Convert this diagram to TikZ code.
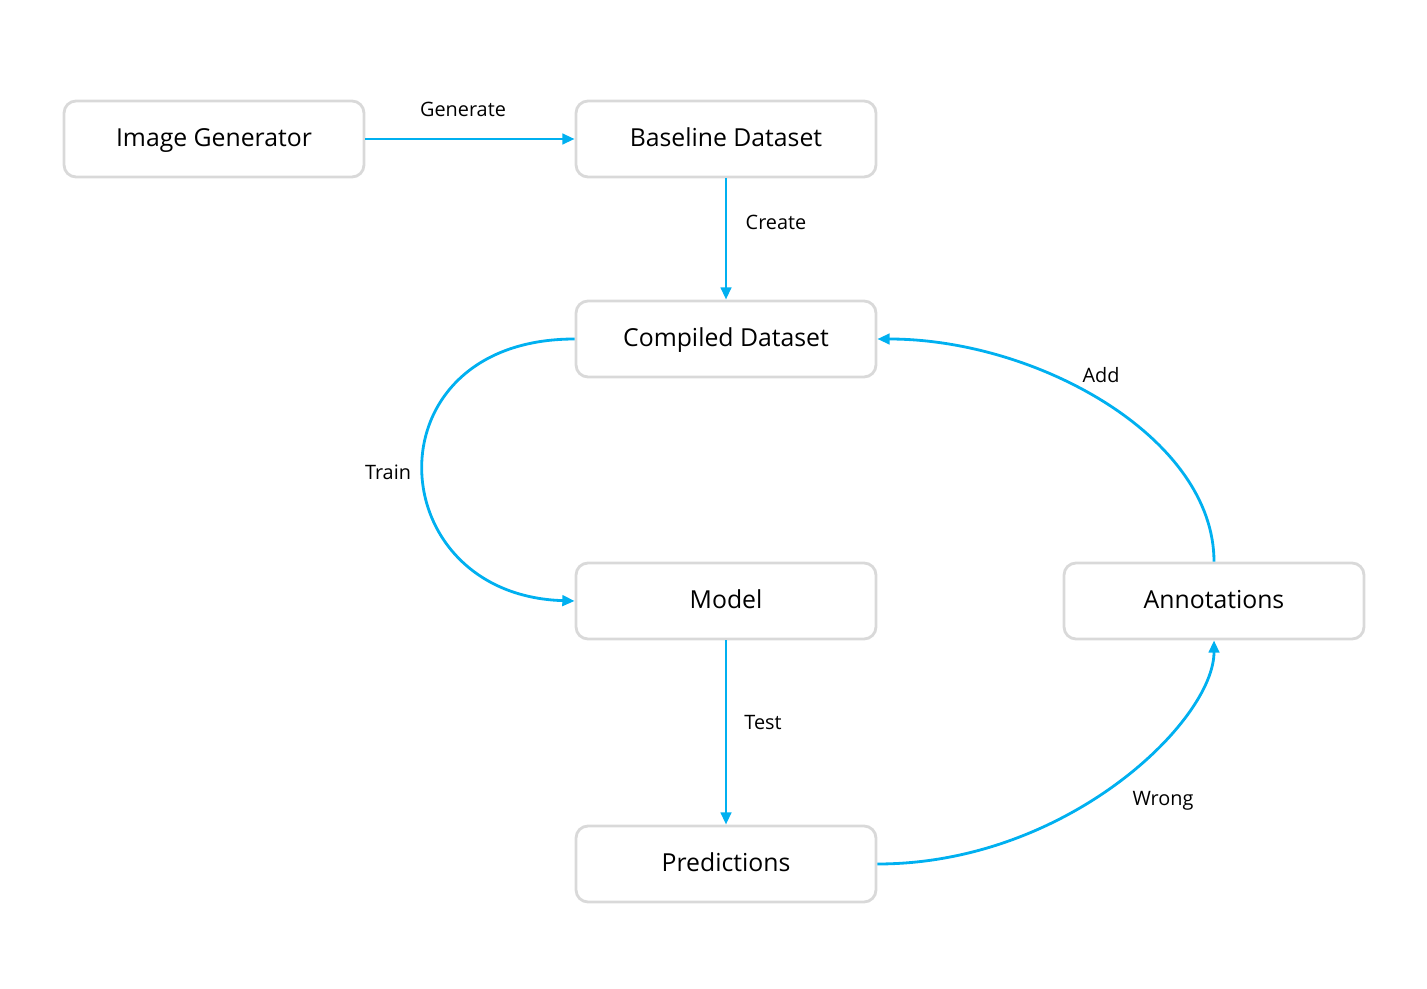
\documentclass[tikz,border=0pt]{standalone}
\usepackage{fontspec}
\setmainfont{Open Sans}
\usetikzlibrary{arrows.meta}
\definecolor{flowblue}{HTML}{00B0F0}
\definecolor{boxgray}{HTML}{D9D9D9}
\tikzset{
	stage/.style={draw=boxgray, line width=1.6pt, rounded corners=0.24cm, minimum width=6cm, minimum height=1.52cm, text height=1.15em, text depth=0.24em, font=\fontsize{14.1}{17}\selectfont},
	flow/.style={draw=flowblue, line width=1.6pt, -{Triangle[length=7pt,width=6pt]}},
	tag/.style={font=\fontsize{11.3}{13}\selectfont, inner sep=0pt, text height=1.05em, text depth=0.24em}
}
\begin{document}
\begin{tikzpicture}[x=0.02cm, y=-0.02cm]
				\useasboundingbox (0,0) rectangle (1427,989);
				\node[stage] (imggen) at (214,139) {Image Generator};
				\node[stage] (baseline) at (726,139) {Baseline Dataset};
				\node[stage] (compiled) at (726,339) {Compiled Dataset};
				\node[stage] (model) at (726,601) {Model};
				\node[stage] (annot) at (1214,601) {Annotations};
				\node[stage] (pred) at (726,864) {Predictions};
				\draw[flow] (imggen) -- (baseline);
				\draw[flow] (baseline) -- (compiled);
				\draw[flow] (compiled.west) .. controls +(-208,0) and +(-196,-6) .. (model.west);
				\draw[flow] (model) -- (pred);
				\draw[flow] (pred.east) .. controls +(190,0) and +(0,80) .. (annot.south);
				\draw[flow] (annot.north) .. controls +(0,-124) and +(160,0) .. (compiled.east);
				\node[tag] (lgen) at (463,109) {Generate};
				\node[tag] (lcreate) at (776,222) {Create};
				\node[tag] (ltrain) at (388,472) {Train};
				\node[tag] (ltest) at (763,722) {Test};
				\node[tag] (ladd) at (1101,375) {Add};
				\node[tag] (lwrong) at (1163,798) {Wrong};
\end{tikzpicture}
\end{document}
